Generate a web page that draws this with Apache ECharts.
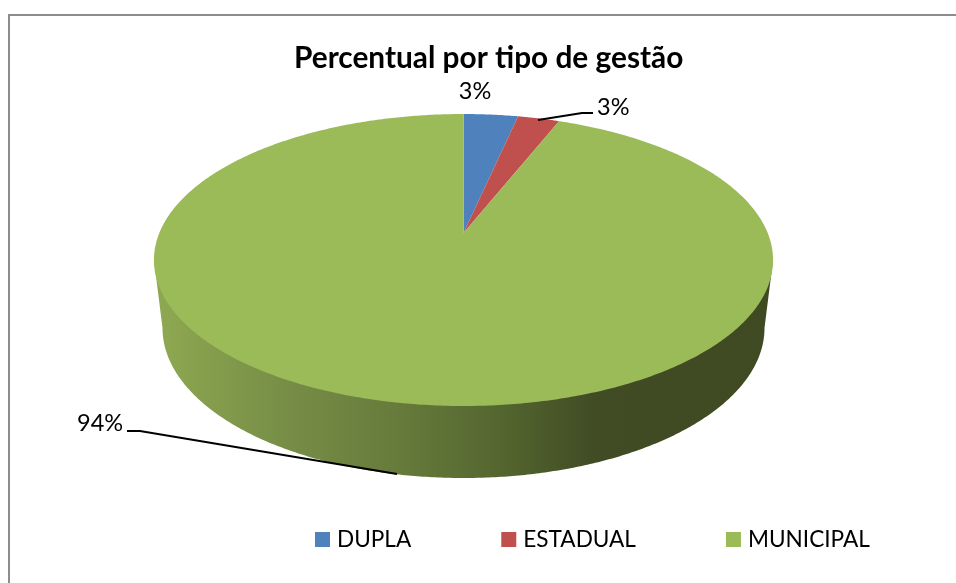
<!DOCTYPE html>
<html>
<head>
<meta charset="utf-8">
<style>
  html, body { margin: 0; padding: 0; background: #fff; }
  #main { width: 956px; height: 583px; }
</style>
<script src="https://cdn.jsdelivr.net/npm/echarts@6/dist/echarts.min.js"></script>
</head>
<body>
<div id="main"></div>
<script>
// dados
const categories = ['DUPLA', 'ESTADUAL', 'MUNICIPAL']
const values = [3.4, 2.6, 94]
const colors = ['#4f81bd', '#c0504d', '#9bbb59']
const chartTitle = 'Percentual por tipo de gestão'

// geometria da pizza em perspectiva (face de cima e base)
const top3d = { cx: 463.5, cy: 233, a: 304.2, b: 141, p: 0.185 }
const base3d = { cx: 463.5, cy: 328, rx: 301, ry: 150 }
// rotulos: posicao do texto e linha de chamada
const labelLayout = [
  { x: 475, y: 91, align: 'center', line: null },
  { x: 597, y: 107, align: 'left', line: [[538, 120], [582, 113], [593, 113]] },
  { x: 77, y: 423, align: 'left', line: [[127, 431], [140, 431], [397, 474]] }
]

const total = values.reduce((s, v) => s + v, 0)

function topPoint (ang) {
  const u = Math.sin(ang)
  const v = -Math.cos(ang)
  const k = 1 / (1 - top3d.p * v)
  return [top3d.cx + top3d.a * u * k, top3d.cy + top3d.b * v * k]
}

function basePoint (ang) {
  return [base3d.cx + base3d.rx * Math.sin(ang), base3d.cy - base3d.ry * Math.cos(ang)]
}

function arc (fn, from, to) {
  const n = Math.max(2, Math.ceil(Math.abs(to - from) / 0.01))
  const pts = []
  for (let i = 0; i <= n; i++) pts.push(fn(from + (to - from) * i / n))
  return pts
}

// ponto mais largo da face de cima, sign 1 = direita, -1 = esquerda
function topWidest (sign) {
  const half = top3d.a / Math.sqrt(1 - top3d.p * top3d.p)
  return [top3d.cx + sign * half, 260]
}

function makeRender (index) {
  return function (params, api) {
    const before = values.slice(0, index).reduce((s, v) => s + v, 0)
    const start = before / total * Math.PI * 2
    const end = (before + api.value(0)) / total * Math.PI * 2
    const children = []

    // parede lateral, so a parte da frente aparece
    const from = Math.max(start, Math.PI / 2)
    const to = Math.min(end, Math.PI * 1.5)
    if (to > from) {
      children.push({
        type: 'polygon',
        shape: { points: [topWidest(1)].concat(arc(basePoint, from, to), [topWidest(-1)]) },
        style: {
          fill: new echarts.graphic.LinearGradient(154, 0, 773, 0, [
            { offset: 0, color: '#8fa952' },
            { offset: 0.2, color: '#788f47' },
            { offset: 0.4, color: '#667a3b' },
            { offset: 0.56, color: '#54662f' },
            { offset: 0.71, color: '#414c24' },
            { offset: 1, color: '#3f4a22' }
          ], true)
        }
      })
    }

    // face de cima
    children.push({
      type: 'polygon',
      shape: { points: [[top3d.cx, top3d.cy]].concat(arc(topPoint, start, end)) },
      style: { fill: colors[index] }
    })

    // linha de chamada e rotulo
    const lay = labelLayout[index]
    if (lay.line) {
      children.push({
        type: 'polyline',
        shape: { points: lay.line },
        style: { stroke: '#000', lineWidth: 2, fill: null }
      })
    }
    children.push({
      type: 'text',
      style: {
        text: Math.round(api.value(0)) + '%',
        x: lay.x,
        y: lay.y,
        align: lay.align,
        verticalAlign: 'middle',
        fill: '#000',
        font: '23.5px Lato'
      }
    })
    return { type: 'group', children: children }
  }
}

const myChart = echarts.init(document.getElementById('main'), null, { renderer: 'canvas' })
myChart.setOption({
  animation: false,
  backgroundColor: '#fff',
  title: {
    text: chartTitle,
    left: 289,
    top: 38,
    textStyle: { fontFamily: 'Lato', fontWeight: 'bold', fontSize: 29.8, color: '#000' }
  },
  legend: {
    data: categories,
    left: 310,
    top: 523,
    orient: 'horizontal',
    icon: 'rect',
    itemWidth: 15,
    itemHeight: 15,
    itemGap: 90,
    selectedMode: false,
    textStyle: { fontFamily: 'Lato', fontSize: 22.6, color: '#000', padding: [0, 0, 0, 2] }
  },
  graphic: [{
    type: 'polyline',
    silent: true,
    shape: { points: [[9, 583], [9, 15], [956, 15]] },
    style: { stroke: '#8c8c8c', lineWidth: 2, fill: null }
  }],
  series: categories.map((name, i) => ({
    type: 'custom',
    name: name,
    coordinateSystem: 'none',
    silent: true,
    itemStyle: { color: colors[i] },
    renderItem: makeRender(i),
    data: [[values[i]]]
  }))
})
</script>
</body>
</html>
